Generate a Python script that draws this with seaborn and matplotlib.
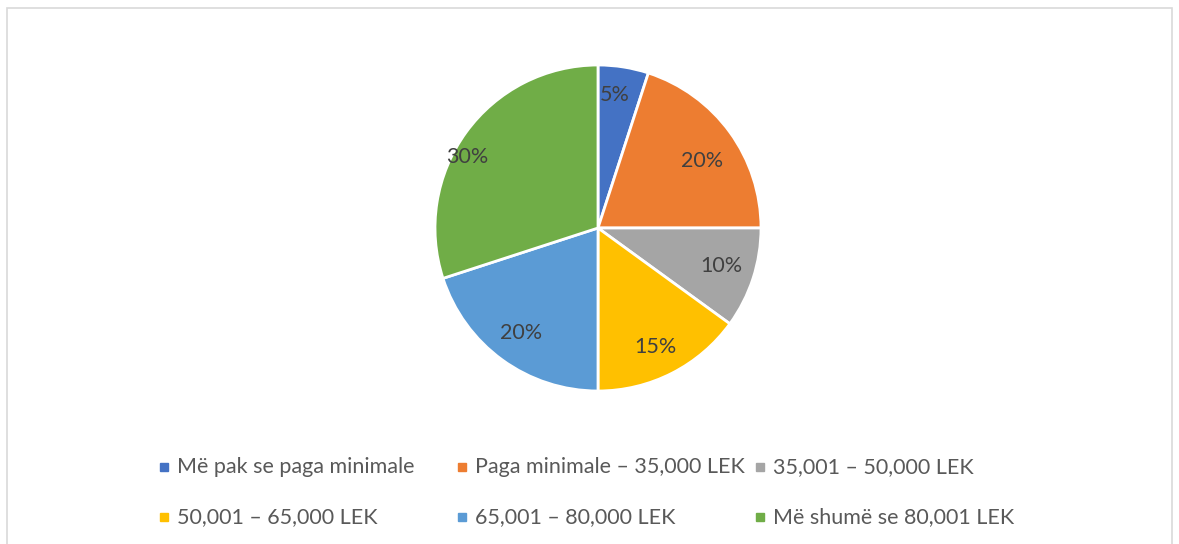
import numpy as np
import matplotlib
matplotlib.use("Agg")
import matplotlib.pyplot as plt
import seaborn as sns
from matplotlib.patches import Rectangle

# -----------------------------
# Data
# -----------------------------

categories = [
    "Më pak se paga minimale",
    "Paga minimale – 35,000 LEK",
    "35,001 – 50,000 LEK",
    "50,001 – 65,000 LEK",
    "65,001 – 80,000 LEK",
    "Më shumë se 80,001 LEK",
]
shares = [5, 20, 10, 15, 20, 30]
colors = ["#4472C4", "#ED7D31", "#A5A5A5", "#FFC000", "#5B9BD5", "#70AD47"]

# -----------------------------
# Style
# -----------------------------

sns.set_theme(style="white")
plt.rcParams["font.family"] = ["Lato", "DejaVu Sans"]
palette = sns.color_palette(colors)

W, H = 1179, 544
fig = plt.figure(figsize=(W / 100, H / 100), dpi=100)

# chart border
fig.patches.append(Rectangle((7 / W, -0.1), (1172 - 7) / W, 1.1 - 8 / H,
                             transform=fig.transFigure, fill=False,
                             edgecolor="#D9D9D9", linewidth=1.2))

# -----------------------------
# Pie
# -----------------------------

cx, cy, r = 598, 228, 163
ax = fig.add_axes([(cx - r) / W, (H - cy - r) / H, 2 * r / W, 2 * r / H])
wedges, texts, autotexts = ax.pie(
    shares, colors=palette, startangle=90, counterclock=False,
    autopct="%1.0f%%", pctdistance=0.8, radius=1,
    wedgeprops=dict(edgecolor="white", linewidth=2),
    textprops=dict(color="#404040", fontsize=15.5),
)

# label placement as done by Excel's best fit (distance, angle shift in deg)
label_dist = [0.82, 0.76, 0.79, 0.81, 0.80, 0.91]
label_shift = [2, -3, 1, -1, 0, 7.5]
for w, t, d, s in zip(wedges, autotexts, label_dist, label_shift):
    ang = np.deg2rad((w.theta1 + w.theta2) / 2 + s)
    t.set_position((d * np.cos(ang), d * np.sin(ang)))

ax.set_xlim(-1, 1)
ax.set_ylim(-1, 1)
ax.set_aspect("equal")
ax.axis("off")

# -----------------------------
# Legend (3 equal columns, like Excel)
# -----------------------------

col_x = [160, 458, 756]
row_y = [467, 517]
for i, (label, c) in enumerate(zip(categories, palette)):
    x0 = col_x[i % 3]
    y0 = row_y[i // 3]
    fig.patches.append(Rectangle((x0 / W, (H - y0 - 4) / H), 8 / W, 8 / H,
                                 transform=fig.transFigure, color=c))
    fig.text((x0 + 17) / W, (H - y0) / H, label, fontsize=15.5,
             color="#595959", va="center", ha="left")

fig.savefig("out.png", dpi=100, facecolor="white")
